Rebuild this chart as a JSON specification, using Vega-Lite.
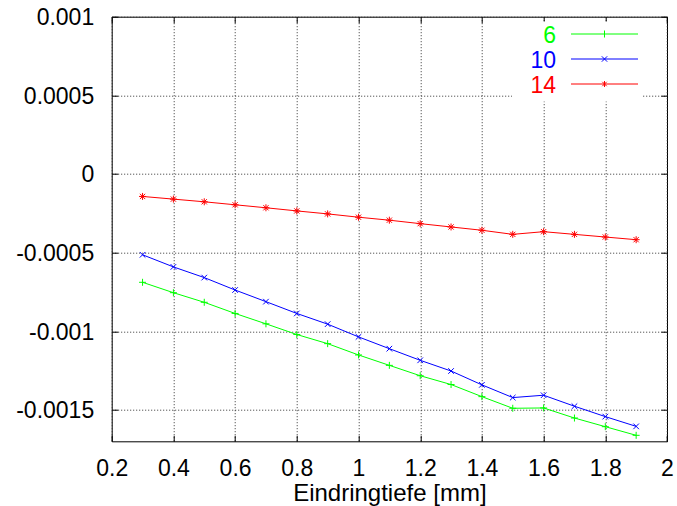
{
  "$schema": "https://vega.github.io/schema/vega-lite/v6.json",
  "autosize": {"type": "none"},
  "padding": {"left": 111.7, "top": 16.7, "right": 10, "bottom": 64.7},
  "width": 555.3,
  "height": 424.6,
  "config": {
    "font": "Liberation Sans",
    "view": {"stroke": "#000", "strokeWidth": 1},
    "axis": {"labelFont": "Liberation Sans", "titleFont": "Liberation Sans"}
  },
  "data": {"values": [
    {"x": 0.3, "y": -0.000689, "s": "6"},
    {"x": 0.4, "y": -0.000755, "s": "6"},
    {"x": 0.5, "y": -0.000816, "s": "6"},
    {"x": 0.6, "y": -0.000887, "s": "6"},
    {"x": 0.7, "y": -0.000953, "s": "6"},
    {"x": 0.8, "y": -0.001021, "s": "6"},
    {"x": 0.9, "y": -0.001079, "s": "6"},
    {"x": 1.0, "y": -0.001151, "s": "6"},
    {"x": 1.1, "y": -0.001217, "s": "6"},
    {"x": 1.2, "y": -0.001283, "s": "6"},
    {"x": 1.3, "y": -0.001339, "s": "6"},
    {"x": 1.4, "y": -0.001416, "s": "6"},
    {"x": 1.5, "y": -0.00149, "s": "6"},
    {"x": 1.6, "y": -0.001488, "s": "6"},
    {"x": 1.7, "y": -0.001552, "s": "6"},
    {"x": 1.8, "y": -0.001607, "s": "6"},
    {"x": 1.9, "y": -0.001662, "s": "6"},
    {"x": 0.3, "y": -0.000514, "s": "10"},
    {"x": 0.4, "y": -0.000591, "s": "10"},
    {"x": 0.5, "y": -0.000659, "s": "10"},
    {"x": 0.6, "y": -0.000738, "s": "10"},
    {"x": 0.7, "y": -0.000812, "s": "10"},
    {"x": 0.8, "y": -0.000887, "s": "10"},
    {"x": 0.9, "y": -0.000955, "s": "10"},
    {"x": 1.0, "y": -0.001036, "s": "10"},
    {"x": 1.1, "y": -0.001111, "s": "10"},
    {"x": 1.2, "y": -0.001185, "s": "10"},
    {"x": 1.3, "y": -0.001253, "s": "10"},
    {"x": 1.4, "y": -0.001341, "s": "10"},
    {"x": 1.5, "y": -0.001422, "s": "10"},
    {"x": 1.6, "y": -0.001407, "s": "10"},
    {"x": 1.7, "y": -0.001477, "s": "10"},
    {"x": 1.8, "y": -0.001543, "s": "10"},
    {"x": 1.9, "y": -0.001605, "s": "10"},
    {"x": 0.3, "y": -0.000143, "s": "14"},
    {"x": 0.4, "y": -0.00016, "s": "14"},
    {"x": 0.5, "y": -0.000177, "s": "14"},
    {"x": 0.6, "y": -0.000196, "s": "14"},
    {"x": 0.7, "y": -0.000215, "s": "14"},
    {"x": 0.8, "y": -0.000235, "s": "14"},
    {"x": 0.9, "y": -0.000254, "s": "14"},
    {"x": 1.0, "y": -0.000275, "s": "14"},
    {"x": 1.1, "y": -0.000294, "s": "14"},
    {"x": 1.2, "y": -0.000316, "s": "14"},
    {"x": 1.3, "y": -0.000337, "s": "14"},
    {"x": 1.4, "y": -0.000358, "s": "14"},
    {"x": 1.5, "y": -0.000384, "s": "14"},
    {"x": 1.6, "y": -0.000367, "s": "14"},
    {"x": 1.7, "y": -0.000384, "s": "14"},
    {"x": 1.8, "y": -0.000401, "s": "14"},
    {"x": 1.9, "y": -0.000418, "s": "14"}
  ]},
  "resolve": {"axis": {"x": "independent", "y": "independent"}},
  "layer": [
    {
      "mark": {"type": "line", "strokeWidth": 1, "clip": true},
      "encoding": {
        "x": {
          "field": "x", "type": "quantitative",
          "scale": {"domain": [0.2, 2], "nice": false, "zero": false},
          "axis": {
            "orient": "bottom",
            "values": [0.2, 0.4, 0.6, 0.8, 1, 1.2, 1.4, 1.6, 1.8, 2],
            "labelExpr": "'' + datum.value",
            "labelFlush": false, "labelOverlap": false,
            "labelFontSize": 23, "labelColor": "#000", "labelPadding": 22,
            "tickSize": -6, "tickColor": "#000", "tickWidth": 1,
            "domain": false,
            "grid": true, "gridColor": "#333", "gridDash": [1, 2], "gridWidth": 1, "gridOpacity": 1,
            "title": "Eindringtiefe [mm]", "titleFontSize": 24, "titleFontWeight": "normal", "titleColor": "#000", "titlePadding": 1
          }
        },
        "y": {
          "field": "y", "type": "quantitative",
          "scale": {"domain": [-0.0017, 0.001], "nice": false, "zero": false},
          "axis": {
            "orient": "left",
            "values": [-0.0015, -0.001, -0.0005, 0, 0.0005, 0.001],
            "labelExpr": "'' + datum.value",
            "labelFlush": false, "labelOverlap": false,
            "labelFontSize": 23, "labelColor": "#000", "labelPadding": 24, "labelOffset": 1,
            "tickSize": -6, "tickColor": "#000", "tickWidth": 1,
            "domain": false,
            "grid": true, "gridColor": "#333", "gridDash": [1, 2], "gridWidth": 1, "gridOpacity": 1,
            "title": null
          }
        },
        "color": {
          "field": "s", "type": "nominal",
          "scale": {"domain": ["6", "10", "14"], "range": ["#00ff00", "#0000ff", "#ff0000"]},
          "legend": {
            "orient": "none", "direction": "vertical",
            "legendX": 400.3, "legendY": 4.8, "padding": 3,
            "fillColor": "white", "strokeColor": null,
            "title": null,
            "labelFont": "Liberation Sans", "labelFontSize": 23, "labelAlign": "right",
            "labelOffset": -60, "symbolOffset": 78, "symbolSize": 16, "symbolStrokeWidth": 1,
            "rowPadding": 1,
            "encode": {
              "symbols": {"update": {
                "shape": {"signal": "datum.value === '6' ? 'M-16.75,-1H16.75M0,-2.75V0.75' : datum.value === '10' ? 'M-16.75,-1H16.75M-1.35,-2.35L1.35,0.35M-1.35,0.35L1.35,-2.35' : 'M-16.75,-1H16.75M0,-2.5V0.5M-1.1,-2.1L1.1,0.1M-1.1,0.1L1.1,-2.1'"},
                "fill": {"value": "transparent"},
                "stroke": {"signal": "scale('color', datum.value)"},
                "strokeWidth": {"value": 1}
              }},
              "labels": {"update": {"fill": {"signal": "scale('color', datum.value)"}}}
            }
          }
        }
      }
    },
    {
      "transform": [{"filter": "datum.s === '6'"}],
      "mark": {"type": "point", "filled": false, "strokeWidth": 1, "size": 49, "opacity": 1, "clip": true, "shape": "M-1,0H1M0,-1V1"},
      "encoding": {
        "x": {
          "field": "x", "type": "quantitative",
          "axis": {
            "orient": "top", "values": [0.2, 0.4, 0.6, 0.8, 1, 1.2, 1.4, 1.6, 1.8, 2],
            "labels": false, "domain": false, "grid": false, "title": null,
            "tickSize": -6, "tickColor": "#000", "tickWidth": 1
          }
        },
        "y": {
          "field": "y", "type": "quantitative",
          "axis": {
            "orient": "right", "values": [-0.0015, -0.001, -0.0005, 0, 0.0005, 0.001],
            "labels": false, "domain": false, "grid": false, "title": null,
            "tickSize": -6, "tickColor": "#000", "tickWidth": 1
          }
        },
        "color": {"field": "s", "type": "nominal"}
      }
    },
    {
      "transform": [{"filter": "datum.s === '10'"}],
      "mark": {"type": "point", "filled": false, "strokeWidth": 1, "size": 49, "opacity": 1, "clip": true, "shape": "M-0.8,-0.8L0.8,0.8M-0.8,0.8L0.8,-0.8"},
      "encoding": {
        "x": {"field": "x", "type": "quantitative", "axis": null},
        "y": {"field": "y", "type": "quantitative", "axis": null},
        "color": {"field": "s", "type": "nominal"}
      }
    },
    {
      "transform": [{"filter": "datum.s === '14'"}],
      "mark": {"type": "point", "filled": false, "strokeWidth": 1, "size": 49, "opacity": 1, "clip": true, "shape": "M-1,0H1M0,-1V1M-0.75,-0.75L0.75,0.75M-0.75,0.75L0.75,-0.75"},
      "encoding": {
        "x": {"field": "x", "type": "quantitative", "axis": null},
        "y": {"field": "y", "type": "quantitative", "axis": null},
        "color": {"field": "s", "type": "nominal"}
      }
    }
  ]
}
